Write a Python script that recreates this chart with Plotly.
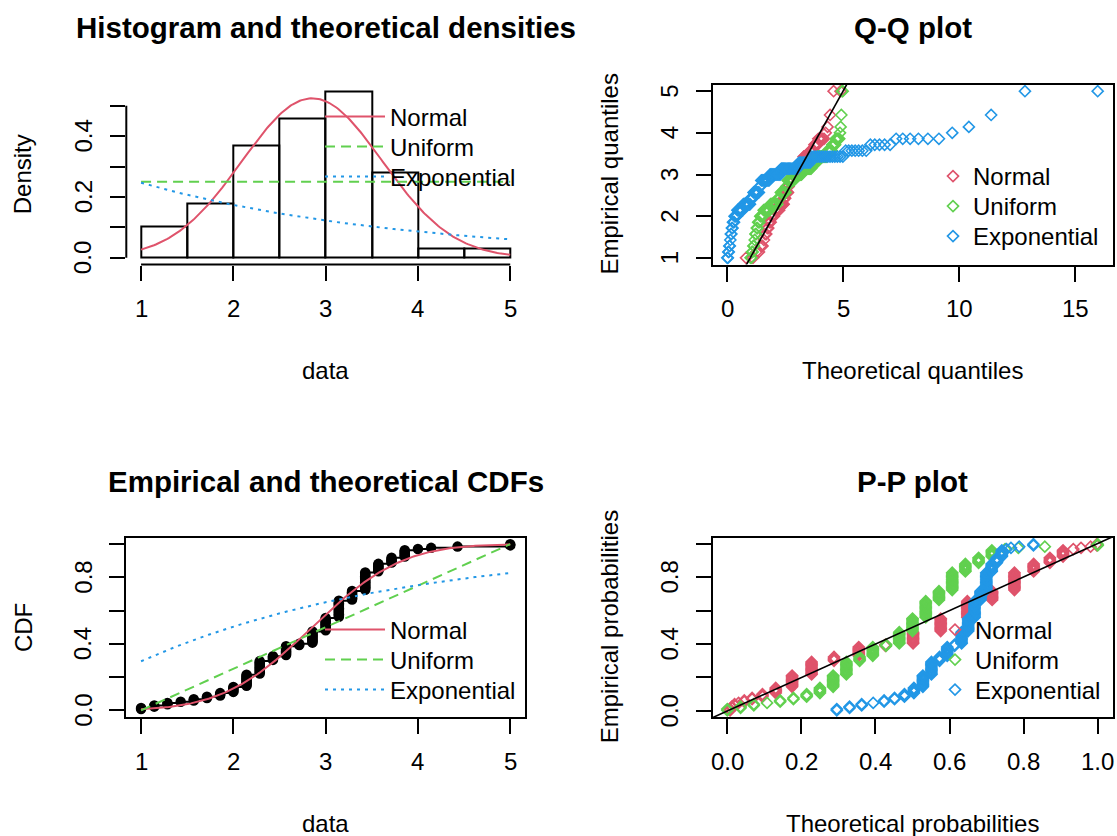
import math
from statistics import NormalDist
import plotly.graph_objects as go

# ---------------- data ----------------
values = [1.000, 1.143, 1.286, 1.429, 1.571, 1.714, 1.857, 2.000, 2.143, 2.286,
          2.429, 2.571, 2.714, 2.857, 3.000, 3.143, 3.286, 3.429, 3.571, 3.714,
          3.857, 4.000, 4.143, 4.429, 5.000]
counts = [2, 2, 2, 1, 2, 2, 3, 5, 10, 11,
          4, 8, 2, 10, 11, 14, 8, 15, 7, 5,
          6, 1, 1, 1, 2]
hist_breaks = [1.0, 1.5, 2.0, 2.5, 3.0, 3.5, 4.0, 4.5, 5.0]

dist_names = ["Normal", "Uniform", "Exponential"]
dist_colors = ["#DF536B", "#61D04F", "#2297E6"]
dist_dash = ["solid", "10px,6px", "3px,5px"]

titles = ["Histogram and theoretical densities", "Q-Q plot",
          "Empirical and theoretical CDFs", "P-P plot"]
xlabs = ["data", "Theoretical quantiles", "data", "Theoretical probabilities"]
ylabs = ["Density", "Empirical quantiles", "CDF", "Empirical probabilities"]

hist_xticks = [1, 2, 3, 4, 5]
hist_xlabels = ["1", "2", "3", "4", "5"]
hist_yticks = [0.0, 0.1, 0.2, 0.3, 0.4, 0.5]
hist_ylabels = ["0.0", "", "0.2", "", "0.4", ""]
qq_xticks = [0, 5, 10, 15]
qq_xlabels = ["0", "5", "10", "15"]
qq_yticks = [1, 2, 3, 4, 5]
qq_ylabels = ["1", "2", "3", "4", "5"]
prob_ticks = [0.0, 0.2, 0.4, 0.6, 0.8, 1.0]
prob_ylabels = ["0.0", "", "0.4", "", "0.8", ""]
pp_xlabels = ["0.0", "0.2", "0.4", "0.6", "0.8", "1.0"]

# ---------------- derived quantities ----------------
data = []
for v, c in zip(values, counts):
    data += [v] * c
data.sort()
n = len(data)
mu = sum(data) / n
sd = math.sqrt(sum((x - mu) ** 2 for x in data) / n)
umin, umax = min(data), max(data)
rate = 1.0 / mu
nd = NormalDist(mu, sd)


def pdf(k, x):
    if k == 0:
        return nd.pdf(x)
    if k == 1:
        return 1.0 / (umax - umin) if umin <= x <= umax else 0.0
    return rate * math.exp(-rate * x)


def cdf(k, x):
    if k == 0:
        return nd.cdf(x)
    if k == 1:
        return min(max((x - umin) / (umax - umin), 0.0), 1.0)
    return 1.0 - math.exp(-rate * x)


def qf(k, p):
    if k == 0:
        return nd.inv_cdf(p)
    if k == 1:
        return umin + p * (umax - umin)
    return -math.log(1.0 - p) / rate


# R-style histogram (right-closed, include lowest)
hcounts = [0] * (len(hist_breaks) - 1)
for x in data:
    for i in range(len(hist_breaks) - 1):
        lo, hi = hist_breaks[i], hist_breaks[i + 1]
        if (lo < x <= hi) or (i == 0 and x == lo):
            hcounts[i] += 1
            break
bw = [hist_breaks[i + 1] - hist_breaks[i] for i in range(len(hcounts))]
dens = [c / (n * w) for c, w in zip(hcounts, bw)]
mids = [(hist_breaks[i] + hist_breaks[i + 1]) / 2 for i in range(len(hcounts))]

npts = 201
grid = [umin + (umax - umin) * i / (npts - 1) for i in range(npts)]
pp = [(i + 0.5) / n for i in range(n)]          # ppoints
ecdf_y = [(i + 1) / n for i in range(n)]


def ext(lo, hi):
    d = (hi - lo) * 0.04
    return [lo - d, hi + d]


hist_xr = ext(umin, umax)
hist_yr = ext(0, max(max(dens), max(pdf(0, g) for g in grid)))
qq_all = [qf(k, p) for k in range(3) for p in pp]
qq_xr = ext(min(qq_all), max(qq_all))
qq_yr = ext(min(data), max(data))
cdf_xr = ext(umin, umax)
cdf_yr = ext(0, 1)
pp_all = [cdf(k, x) for k in range(3) for x in data]
pp_xr = ext(min(pp_all), max(pp_all))
pp_yr = ext(min(pp), max(pp))

# ---------------- figure ----------------
W, H = 1117, 836
FONT = "Liberation Sans, Arial, sans-serif"
fig = go.Figure()


def lname(i):
    return "legend" if i == 1 else "legend%d" % i


# Histogram + densities
fig.add_trace(go.Bar(x=mids, y=dens, width=bw, marker=dict(color="rgba(0,0,0,0)",
              line=dict(color="black", width=2)), showlegend=False,
              xaxis="x", yaxis="y"))
for k in range(3):
    fig.add_trace(go.Scatter(x=grid, y=[pdf(k, g) for g in grid], mode="lines",
                             name=dist_names[k], line=dict(color=dist_colors[k], width=2,
                             dash=dist_dash[k]), xaxis="x", yaxis="y", legend=lname(1 + k)))

# Q-Q plot
for k in range(3):
    fig.add_trace(go.Scatter(x=[qf(k, p) for p in pp], y=data, mode="markers",
                             name=dist_names[k],
                             marker=dict(symbol="diamond-open", size=8.5, color=dist_colors[k],
                                         line=dict(width=1.6, color=dist_colors[k])),
                             xaxis="x2", yaxis="y2", legend=lname(4 + k)))
lo = min(qq_xr[0], qq_yr[0]) - 1
hi = max(qq_xr[1], qq_yr[1]) + 1
fig.add_trace(go.Scatter(x=[lo, hi], y=[lo, hi], mode="lines", line=dict(color="black", width=1.6),
                         showlegend=False, xaxis="x2", yaxis="y2"))

# CDF plot
hx, hy = [], []
for j in range(len(values) - 1):
    F = sum(counts[:j + 1]) / n
    hx += [values[j], values[j + 1], None]
    hy += [F, F, None]
fig.add_trace(go.Scatter(x=hx, y=hy, mode="lines", line=dict(color="black", width=2),
                         showlegend=False, xaxis="x3", yaxis="y3"))
fig.add_trace(go.Scatter(x=data, y=ecdf_y, mode="markers",
                         marker=dict(symbol="circle", size=10.5, color="black"),
                         showlegend=False, xaxis="x3", yaxis="y3"))
for k in range(3):
    fig.add_trace(go.Scatter(x=grid, y=[cdf(k, g) for g in grid], mode="lines",
                             name=dist_names[k], line=dict(color=dist_colors[k], width=2,
                             dash=dist_dash[k]), xaxis="x3", yaxis="y3", legend=lname(7 + k)))

# P-P plot
for k in range(3):
    fig.add_trace(go.Scatter(x=[cdf(k, x) for x in data], y=pp, mode="markers",
                             name=dist_names[k],
                             marker=dict(symbol="diamond-open", size=8.5, color=dist_colors[k],
                                         line=dict(width=1.6, color=dist_colors[k])),
                             xaxis="x4", yaxis="y4", legend=lname(10 + k)))
fig.add_trace(go.Scatter(x=[-1, 2], y=[-1, 2], mode="lines", line=dict(color="black", width=1.6),
                         showlegend=False, xaxis="x4", yaxis="y4"))

# panel geometry in pixels: (left, right) per column, (top, bottom) per row
col = [(126.3, 525.0), (712.5, 1112.5)]
row = [(84.5, 264.5), (537.5, 717.0)]


def xdom(c):
    return [col[c][0] / W, col[c][1] / W]


def ydom(r):
    return [1 - row[r][1] / H, 1 - row[r][0] / H]


tickfont = dict(family=FONT, size=24, color="black")
base = dict(showgrid=False, zeroline=False, ticks="outside", ticklen=15, tickwidth=2,
            tickcolor="black", showticklabels=False, linecolor="black", linewidth=2)


def xa(c, rng, tv, box, anchor):
    return dict(base, domain=xdom(c), range=rng, tickvals=tv, anchor=anchor,
                showline=box, mirror=box)


def ya(r, rng, tv, box, anchor):
    return dict(base, domain=ydom(r), range=rng, tickvals=tv, anchor=anchor,
                showline=box, mirror=box)


fig.update_layout(
    width=W, height=H, margin=dict(l=0, r=0, t=0, b=0),
    paper_bgcolor="white", plot_bgcolor="white",
    font=dict(family=FONT, size=24, color="black"),
    xaxis=xa(0, hist_xr, hist_xticks, False, "y"),
    yaxis=ya(0, hist_yr, hist_yticks, False, "x"),
    xaxis2=xa(1, qq_xr, qq_xticks, True, "y2"),
    yaxis2=ya(0, qq_yr, qq_yticks, True, "x2"),
    xaxis3=xa(0, cdf_xr, hist_xticks, True, "y3"),
    yaxis3=ya(1, cdf_yr, prob_ticks, True, "x3"),
    xaxis4=xa(1, pp_xr, prob_ticks, True, "y4"),
    yaxis4=ya(1, pp_yr, prob_ticks, True, "x4"),
    bargap=0,
)

# one legend per entry so the R legend spacing can be reproduced
def leg(xpx, ycpx, iw):
    return dict(x=xpx / W, y=1 - ycpx / H, xanchor="left", yanchor="middle",
                bgcolor="rgba(0,0,0,0)", borderwidth=0, itemwidth=iw,
                font=dict(family=FONT, size=24, color="black"), tracegroupgap=0)


leg_specs = [(320, 117, 60), (320, 147, 60), (320, 177, 60),
             (933, 176.5, 30), (933, 206.5, 30), (933, 236.5, 30),
             (320, 630, 60), (320, 660, 60), (320, 690, 60),
             (935, 630, 30), (935, 660, 30), (935, 690, 30)]
fig.update_layout(**{lname(i + 1): leg(*s) for i, s in enumerate(leg_specs)})

# hist axis lines (R style: from first to last tick, no box)
fig.add_shape(type="line", xref="x", yref="y domain", x0=hist_xticks[0], x1=hist_xticks[-1],
              y0=0, y1=0, line=dict(color="black", width=2))
fig.add_shape(type="line", xref="x domain", yref="y", x0=0, x1=0, y0=hist_yticks[0],
              y1=hist_yticks[-1], line=dict(color="black", width=2))

# tick labels (R style: 1 line from axis, y labels parallel to axis)
axes = [("x", "y", hist_xticks, hist_xlabels, hist_yticks, hist_ylabels),
        ("x2", "y2", qq_xticks, qq_xlabels, qq_yticks, qq_ylabels),
        ("x3", "y3", hist_xticks, hist_xlabels, prob_ticks, prob_ylabels),
        ("x4", "y4", prob_ticks, pp_xlabels, prob_ticks, prob_ylabels)]
for xr, yr, xt, xl, yt, yl in axes:
    for v, t in zip(xt, xl):
        if t:
            fig.add_annotation(text=t, xref=xr, yref=yr + " domain", x=v, y=0, yshift=-44,
                               showarrow=False, xanchor="center", yanchor="middle", font=tickfont)
    for v, t in zip(yt, yl):
        if t:
            fig.add_annotation(text=t, xref=xr + " domain", yref=yr, x=0, y=v, xshift=-43,
                               textangle=-90, showarrow=False, xanchor="center",
                               yanchor="middle", font=tickfont)

# titles and axis titles
for i in range(4):
    r, c = divmod(i, 2)
    cx = (col[c][0] + col[c][1]) / 2 / W
    cy = 1 - (row[r][0] + row[r][1]) / 2 / H
    fig.add_annotation(text="<b>" + titles[i] + "</b>", xref="paper", yref="paper",
                       x=cx, y=1 - (row[r][0] - 56.5) / H, showarrow=False,
                       xanchor="center", yanchor="middle",
                       font=dict(family=FONT, size=29.5, color="black"))
    fig.add_annotation(text=xlabs[i], xref="paper", yref="paper", x=cx,
                       y=1 - (row[r][1] + 106) / H, showarrow=False,
                       xanchor="center", yanchor="middle", font=tickfont)
    fig.add_annotation(text=ylabs[i], xref="paper", yref="paper",
                       x=(col[c][0] - 103.5) / W, y=cy, textangle=-90, showarrow=False,
                       xanchor="center", yanchor="middle", font=tickfont)

fig.write_html("out.html")
